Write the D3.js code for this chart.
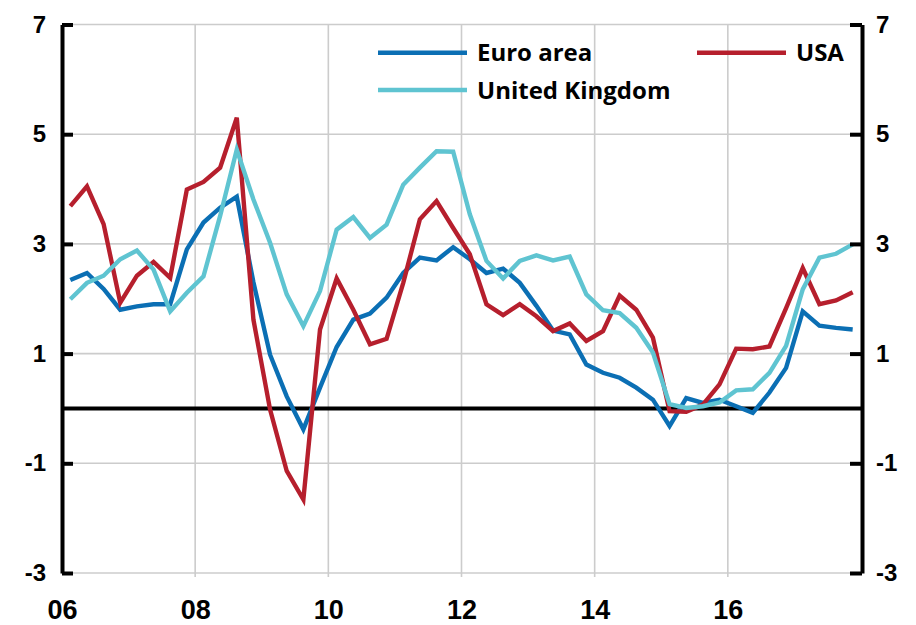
<!DOCTYPE html>
<html>
<head>
<meta charset="utf-8">
<script src="https://cdn.jsdelivr.net/npm/d3@7"></script>
<style>
  html, body { margin: 0; padding: 0; background: #fff; }
  svg { display: block; font-family: Lato, "Open Sans", sans-serif; font-weight: bold; }
  .grid line { stroke: #cccccc; stroke-width: 1.6; }
  .axis path, .axis line { stroke: #000; stroke-width: 4; }
  .axis text { fill: #000; font-size: 24px; font-weight: bold; }
  .xaxis text { font-size: 27px; }
  .series { fill: none; stroke-width: 4.4; stroke-linejoin: miter; }
  .legend text { font-family: "Open Sans", Lato, sans-serif; font-size: 24px; fill: #000; }
</style>
</head>
<body>
<svg id="chart" width="916" height="625"></svg>
<script>
// Quarterly CPI inflation, % y/y, 2006 Q1 .. 2017 Q4
const startYear = 2006;
const euroArea = [
  2.34, 2.47, 2.18, 1.80, 1.86, 1.90, 1.90, 2.90,
  3.39, 3.66, 3.86, 2.30, 0.98, 0.22, -0.38, 0.38,
  1.12, 1.62, 1.73, 2.02, 2.47, 2.75, 2.70, 2.94,
  2.72, 2.47, 2.55, 2.29, 1.87, 1.42, 1.35, 0.80,
  0.65, 0.56, 0.38, 0.16, -0.32, 0.19, 0.10, 0.16,
  0.04, -0.08, 0.29, 0.74, 1.77, 1.51, 1.47, 1.44
];
const usa = [
  3.69, 4.05, 3.36, 1.93, 2.42, 2.67, 2.38, 3.99,
  4.13, 4.39, 5.30, 1.62, -0.02, -1.14, -1.66, 1.44,
  2.37, 1.80, 1.17, 1.27, 2.29, 3.45, 3.78, 3.29,
  2.81, 1.90, 1.70, 1.90, 1.68, 1.41, 1.55, 1.23,
  1.41, 2.06, 1.80, 1.29, -0.05, -0.06, 0.07, 0.44,
  1.09, 1.08, 1.13, 1.83, 2.56, 1.90, 1.97, 2.12
];
const unitedKingdom = [
  1.99, 2.29, 2.42, 2.72, 2.88, 2.53, 1.77, 2.11,
  2.41, 3.51, 4.72, 3.81, 3.02, 2.08, 1.50, 2.14,
  3.26, 3.49, 3.11, 3.35, 4.08, 4.39, 4.69, 4.68,
  3.54, 2.69, 2.37, 2.69, 2.79, 2.70, 2.77, 2.08,
  1.79, 1.74, 1.47, 1.02, 0.08, 0.01, 0.04, 0.11,
  0.33, 0.35, 0.65, 1.14, 2.17, 2.75, 2.82, 2.99
];
const yTicks = [7, 5, 3, 1, -1, -3];
const xTicks = [2006, 2008, 2010, 2012, 2014, 2016];
const seriesNames = ["Euro area", "USA", "United Kingdom"];
const seriesColors = ["#0b6fb4", "#b61f2d", "#5fc4d1"];

(function () {
  const svg = d3.select("#chart");
  const left = 62, right = 862, top = 24.5, bottom = 573;

  const x = d3.scaleLinear().domain([startYear, startYear + 12]).range([left, right - 1]);
  const y = d3.scaleLinear().domain([-3, 7]).range([bottom, top]);
  const qDate = (i) => startYear + i * 0.25 + 0.125;
  const yFmt = (d) => String(d); // plain hyphen, as in the original

  // --- Gridlines ------------------------------------------------------
  const grid = svg.append("g").attr("class", "grid");
  grid.selectAll("line.h").data(yTicks).enter().append("line")
    .attr("x1", left).attr("x2", right - 12)
    .attr("y1", (d) => y(d)).attr("y2", (d) => y(d));
  grid.selectAll("line.v").data(xTicks.slice(1)).enter().append("line")
    .attr("x1", (d) => x(d)).attr("x2", (d) => x(d))
    .attr("y1", top).attr("y2", bottom + 4);

  // zero line
  svg.append("line")
    .attr("x1", left).attr("x2", right)
    .attr("y1", y(0)).attr("y2", y(0))
    .attr("stroke", "#000").attr("stroke-width", 4);

  // --- Series ---------------------------------------------------------
  const line = d3.line().x((d, i) => x(qDate(i))).y((d) => y(d));
  const data = [euroArea, usa, unitedKingdom];
  for (const k of [0, 1, 2]) {
    svg.append("path")
      .attr("class", "series")
      .attr("stroke", seriesColors[k])
      .attr("d", line(data[k]));
  }

  // --- Axes -----------------------------------------------------------
  svg.append("g").attr("class", "axis")
    .attr("transform", `translate(${left},0)`)
    .call(d3.axisLeft(y).tickValues(yTicks).tickFormat(yFmt)
      .tickSize(-11).tickSizeOuter(0).tickPadding(16));
  svg.append("g").attr("class", "axis")
    .attr("transform", `translate(${right},0)`)
    .call(d3.axisRight(y).tickValues(yTicks).tickFormat(yFmt)
      .tickSize(-12).tickSizeOuter(0).tickPadding(14));
  const xa = svg.append("g").attr("class", "axis xaxis")
    .attr("transform", `translate(0,${bottom})`)
    .call(d3.axisBottom(x).tickValues(xTicks).tickSize(0).tickPadding(27)
      .tickFormat((d) => String(d).slice(2)));
  xa.select(".domain").remove();

  // --- Legend ---------------------------------------------------------
  const legendPos = [[378, 52.7], [697, 52.7], [378, 90]];
  const lg = svg.append("g").attr("class", "legend");
  seriesNames.forEach((name, k) => {
    const [lx, ly] = legendPos[k];
    lg.append("line")
      .attr("x1", lx).attr("x2", lx + 89)
      .attr("y1", ly).attr("y2", ly)
      .attr("stroke", seriesColors[k]).attr("stroke-width", 4.4);
    lg.append("text")
      .attr("x", lx + 99).attr("y", ly).attr("dy", "0.36em")
      .text(name);
  });
})();
</script>
</body>
</html>
